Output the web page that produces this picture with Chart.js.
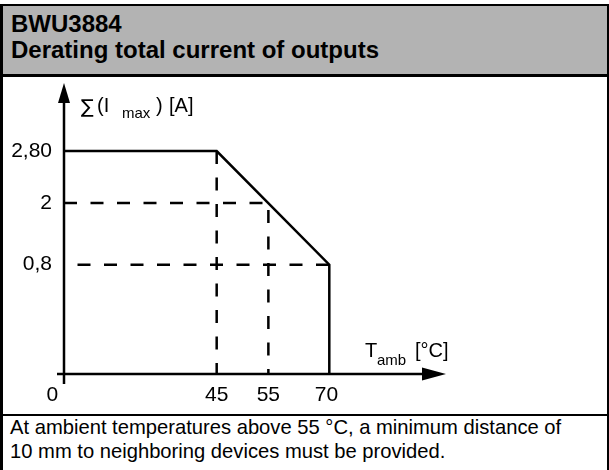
<!DOCTYPE html>
<html>
<head>
<meta charset="utf-8">
<title>BWU3884 derating</title>
<script src="https://cdn.jsdelivr.net/npm/chart.js@4.4.1/dist/chart.umd.min.js"></script>
<style>
  html, body { margin: 0; padding: 0; background: #fff; }
  body { width: 609px; height: 470px; position: relative; overflow: hidden;
         font-family: "Liberation Sans", Arial, Helvetica, sans-serif; color: #000; }
  #frame { position: absolute; left: 0; top: 4px; width: 609px; height: 466px; box-sizing: border-box;
           border-left: 3px solid #000; border-top: 2px solid #000; border-right: 2px solid #000; }
  #head { position: absolute; left: 3px; top: 6px; width: 604px; height: 68px; background: #b3b3b3;
          border-bottom: 3px solid #000; }
  #head div { position: absolute; left: 8px; font-weight: bold; font-size: 24px; line-height: 26px; white-space: nowrap; }
  #foot-line { position: absolute; left: 3px; top: 414px; width: 604px; height: 2px; background: #000; }
  #foot { position: absolute; left: 10px; top: 415px; font-size: 20.2px; line-height: 24px; white-space: nowrap; }
  #chart { position: absolute; left: 0; top: 0; z-index: 2; }
</style>
</head>
<body>
<div id="frame"></div>
<div id="head">
  <div style="top:5px">BWU3884</div>
  <div style="top:31px">Derating total current of outputs</div>
</div>
<div id="foot-line"></div>
<div id="foot">At ambient temperatures above 55 °C, a minimum distance of<br>10 mm to neighboring devices must be provided.</div>
<canvas id="chart" width="609" height="470"></canvas>
<script>
// Axis ticks
const xTicks = [0, 45, 55, 70];
const xTickLabels = ['0    ', '45', '55', '70 '];
const yTicks = [0.8, 2, 2.8];
const yTickLabels = ['0,8', '2', '2,80'];

// Derating curve: total current [A] vs ambient temperature [°C]
const deratingTemp = [0, 45, 70, 70];
const deratingCurrent = [2.8, 2.8, 0.8, 0];

// Dashed guide lines
const guide2Temp = [0, 55];
const guide2Current = [2, 2];
const guide08Temp = [0, 70];
const guide08Current = [0.8, 0.8];
const guide45Temp = [45, 45];
const guide45Current = [2.8, 0];
const guide55Temp = [55, 55];
const guide55Current = [2, 0];

const FONT = '"Liberation Sans", Arial, Helvetica, sans-serif';
Chart.defaults.font.family = FONT;
Chart.defaults.color = '#000';

function pts(xs, ys) {
    return xs.map((x, i) => ({ x: x, y: ys[i] }));
}

// The drawing is schematic (not to scale), so the axes map values piecewise-linearly
class PiecewiseScale extends Chart.LinearScale {
    toDecimal(v) {
        const s = this.options.stops;
        if (v <= s[0][0]) return s[0][1];
        for (let i = 1; i < s.length; i++) {
            if (v <= s[i][0]) {
                const a = s[i - 1], b = s[i];
                return a[1] + (v - a[0]) / (b[0] - a[0]) * (b[1] - a[1]);
            }
        }
        return s[s.length - 1][1];
    }
    fromDecimal(d) {
        const s = this.options.stops;
        for (let i = 1; i < s.length; i++) {
            if (d <= s[i][1]) {
                const a = s[i - 1], b = s[i];
                return a[0] + (d - a[1]) / (b[1] - a[1]) * (b[0] - a[0]);
            }
        }
        return s[s.length - 1][0];
    }
    getPixelForValue(value) {
        return this.getPixelForDecimal(this.toDecimal(value));
    }
    getValueForPixel(pixel) {
        return this.fromDecimal(this.getDecimalForPixel(pixel));
    }
}
PiecewiseScale.id = 'piecewise';
PiecewiseScale.defaults = Chart.LinearScale.defaults;
Chart.register(PiecewiseScale);

// Axis lines with arrow heads and the axis titles (with subscripts)
const axesPlugin = {
    id: 'axesPlugin',
    afterDatasetsDraw(chart) {
        const { ctx, chartArea: a, scales: { x, y } } = chart;
        const x0 = x.getPixelForValue(0);
        const y0 = y.getPixelForValue(0);
        ctx.save();
        ctx.strokeStyle = '#000';
        ctx.fillStyle = '#000';
        ctx.lineWidth = 2.5;
        ctx.beginPath();
        ctx.moveTo(x0, y0 + 10);
        ctx.lineTo(x0, a.top + 18);
        ctx.moveTo(x0 - 7, y0);
        ctx.lineTo(a.right - 20, y0);
        ctx.stroke();

        ctx.beginPath();
        ctx.moveTo(x0, a.top);
        ctx.lineTo(x0 + 6, a.top + 20);
        ctx.lineTo(x0 - 6, a.top + 20);
        ctx.closePath();
        ctx.fill();

        ctx.beginPath();
        ctx.moveTo(a.right, y0);
        ctx.lineTo(a.right - 24, y0 - 6.5);
        ctx.lineTo(a.right - 24, y0 + 6.5);
        ctx.closePath();
        ctx.fill();

        ctx.textAlign = 'left';
        ctx.textBaseline = 'alphabetic';
        // y title: ∑ (I max ) [A]
        ctx.font = '19px "DejaVu Sans", sans-serif';
        ctx.fillText('\u2211', x0 + 17, a.top + 30);
        ctx.font = '20px ' + FONT;
        ctx.fillText('(I', x0 + 33, a.top + 29);
        ctx.fillText(')', x0 + 92, a.top + 29);
        ctx.fillText('[A]', x0 + 105, a.top + 29);
        ctx.font = '15px ' + FONT;
        ctx.fillText('max', x0 + 58, a.top + 35);
        // x title: T amb [°C]
        ctx.font = '20px ' + FONT;
        ctx.fillText('T', a.right - 81, y0 - 17);
        ctx.fillText('[\u00b0C]', a.right - 31, y0 - 17);
        ctx.font = '15px ' + FONT;
        ctx.fillText('amb', a.right - 69, y0 - 9);
        ctx.restore();
    }
};

const dashed = {
    borderColor: '#000',
    borderWidth: 2.5,
    borderDash: [13, 13.5],
    pointRadius: 0,
    fill: false,
    tension: 0
};

new Chart(document.getElementById('chart'), {
    type: 'line',
    data: {
        datasets: [
            { ...dashed, data: pts(guide2Temp, guide2Current), borderDashOffset: 0 },
            { ...dashed, data: pts(guide08Temp, guide08Current), borderDashOffset: 13 },
            { ...dashed, data: pts(guide45Temp, guide45Current), borderDashOffset: 0 },
            { ...dashed, data: pts(guide55Temp, guide55Current), borderDashOffset: 19.5 },
            {
                data: pts(deratingTemp, deratingCurrent),
                borderColor: '#000',
                borderWidth: 2.5,
                pointRadius: 0,
                fill: false,
                tension: 0,
                borderJoinStyle: 'miter'
            }
        ]
    },
    options: {
        responsive: false,
        animation: false,
        events: [],
        layout: { padding: { top: 83, right: 163, bottom: 56, left: 0 } },
        plugins: { legend: { display: false }, tooltip: { enabled: false } },
        scales: {
            x: {
                type: 'piecewise',
                position: 'bottom',
                min: 0,
                max: 80,
                stops: [[0, 0], [45, 0.3997], [55, 0.535], [70, 0.6945], [80, 1]],
                grid: { display: false, drawTicks: false },
                border: { display: false },
                afterBuildTicks: s => { s.ticks = xTicks.map(v => ({ value: v })); },
                afterFit: s => { s.height = 40; },
                ticks: {
                    autoSkip: false,
                    maxRotation: 0,
                    padding: 9,
                    font: { size: 21 },
                    color: '#000',
                    callback: v => xTickLabels[xTicks.indexOf(v)]
                }
            },
            y: {
                type: 'piecewise',
                position: 'left',
                min: 0,
                max: 3.5,
                stops: [[0, 0], [0.8, 0.3756], [2, 0.5876], [2.8, 0.7663], [3.5, 1]],
                grid: { display: false, drawTicks: false },
                border: { display: false },
                afterBuildTicks: s => { s.ticks = yTicks.map(v => ({ value: v })); },
                afterFit: s => { s.width = 64; },
                ticks: {
                    autoSkip: false,
                    padding: 12,
                    font: { size: 21 },
                    color: '#000',
                    callback: v => yTickLabels[yTicks.indexOf(v)]
                }
            }
        }
    },
    plugins: [axesPlugin]
});
</script>
</body>
</html>
